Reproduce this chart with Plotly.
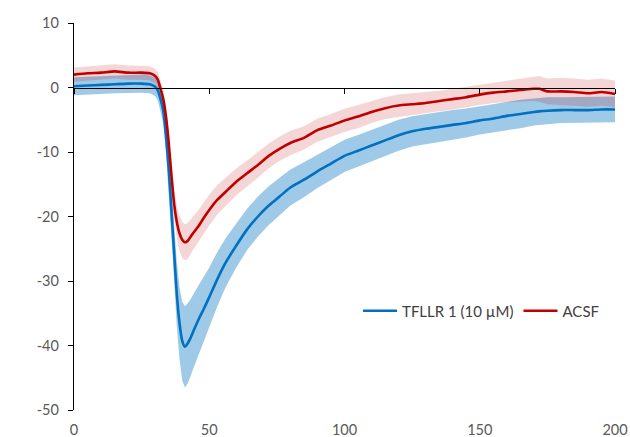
import plotly.graph_objects as go

# ---- data ----
x_vals = [0, 5, 10, 15, 20, 25, 28, 30, 31, 32, 33, 34, 35, 36, 37, 38, 39, 40, 41, 42,
          43, 44, 46, 48, 50, 53, 56, 60, 64, 68, 72, 76, 80, 85, 90, 95, 100, 105, 110,
          115, 120, 125, 130, 135, 140, 145, 150, 155, 160, 165, 170, 172, 175, 180, 185,
          190, 195, 200]

tfllr_mean = [0.2, 0.3, 0.4, 0.5, 0.6, 0.6, 0.5, 0.1, -0.5, -1.8, -3.6, -7.5, -12.5, -19.0,
              -25.5, -32.0, -36.5, -39.3, -40.2, -39.7, -38.9, -37.9, -36.0, -34.3, -32.5,
              -29.7, -27.2, -24.5, -22.0, -20.0, -18.3, -16.9, -15.5, -14.3, -13.0, -11.8,
              -10.6, -9.8, -9.0, -8.2, -7.4, -6.8, -6.4, -6.1, -5.8, -5.5, -5.1, -4.8, -4.4,
              -4.1, -3.8, -3.7, -3.6, -3.5, -3.5, -3.5, -3.4, -3.4]

tfllr_err = [1.4, 1.4, 1.4, 1.4, 1.4, 1.4, 1.4, 1.4, 1.5, 1.7, 2.0, 2.5, 3.0, 3.6, 4.3, 5.0,
             5.6, 6.1, 6.3, 6.2, 6.0, 5.8, 5.3, 5.0, 4.6, 4.2, 3.8, 3.4, 3.2, 3.1, 3.0, 2.9,
             2.8, 2.7, 2.6, 2.55, 2.5, 2.45, 2.45, 2.4, 2.4, 2.35, 2.3, 2.3, 2.3, 2.25, 2.2,
             2.2, 2.2, 2.2, 2.1, 2.1, 2.1, 2.0, 2.0, 2.0, 2.0, 2.0]

acsf_mean = [2.0, 2.2, 2.3, 2.5, 2.3, 2.3, 2.2, 1.8, 1.2, -0.2, -1.8, -4.5, -8.5, -13.5,
             -18.0, -20.8, -22.6, -23.6, -24.0, -23.8, -23.2, -22.6, -21.5, -20.2, -19.0,
             -17.4, -16.2, -14.6, -13.3, -12.0, -10.6, -9.5, -8.6, -7.8, -6.6, -5.9, -5.1,
             -4.5, -3.8, -3.2, -2.8, -2.6, -2.4, -2.1, -1.8, -1.5, -1.1, -0.8, -0.6, -0.4,
             -0.2, -0.2, -0.6, -0.6, -0.7, -0.9, -0.7, -1.0]

acsf_err = [1.1, 1.1, 1.1, 1.1, 1.1, 1.1, 1.1, 1.1, 1.2, 1.3, 1.4, 1.6, 1.8, 2.0, 2.3, 2.5,
            2.7, 2.8, 2.8, 2.8, 2.7, 2.6, 2.5, 2.4, 2.4, 2.3, 2.2, 2.1, 2.0, 2.0, 1.9, 1.9,
            1.9, 1.8, 1.8, 1.8, 1.8, 1.8, 1.7, 1.7, 1.7, 1.7, 1.6, 1.6, 1.6, 1.6, 1.6, 1.6,
            1.7, 1.8, 1.9, 2.0, 2.0, 2.1, 2.1, 2.1, 2.1, 2.1]

series_names = ["TFLLR 1 (10 µM)", "ACSF"]
y_tickvals = [10, 0, -10, -20, -30, -40, -50]
y_ticktext = ["10", "0", "-10", "-20", "-30", "-40", "-50"]
x_tickvals = [0, 50, 100, 150, 200]

FONT = "Lato"
LABEL_COLOR = "#595959"


def band(x, m, e, color):
    upper = [a + b for a, b in zip(m, e)]
    lower = [a - b for a, b in zip(m, e)]
    return go.Scatter(x=list(x) + list(x)[::-1], y=upper + lower[::-1],
                      fill="toself", fillcolor=color, line=dict(width=0),
                      mode="lines", hoverinfo="skip", showlegend=False)


fig = go.Figure()
fig.add_trace(band(x_vals, tfllr_mean, tfllr_err, "rgba(0,112,192,0.38)"))
fig.add_trace(band(x_vals, acsf_mean, acsf_err, "rgba(192,0,0,0.16)"))
fig.add_trace(go.Scatter(x=x_vals, y=tfllr_mean, mode="lines", name=series_names[0],
                         line=dict(color="#0070C0", width=2.6, shape="spline", smoothing=0.6)))
fig.add_trace(go.Scatter(x=x_vals, y=acsf_mean, mode="lines", name=series_names[1],
                         line=dict(color="#C00000", width=2.6, shape="spline", smoothing=0.6)))
# helper trace that carries the mid-plot x axis (line at y = 0 with ticks)
fig.add_trace(go.Scatter(x=[None], y=[None], xaxis="x2", showlegend=False, hoverinfo="skip"))

fig.update_layout(
    width=630, height=437,
    margin=dict(l=74, r=15, t=23, b=27),
    paper_bgcolor="white", plot_bgcolor="white",
    font=dict(family=FONT, size=14.5, color=LABEL_COLOR),
    showlegend=True,
    legend=dict(orientation="h", x=0.525, y=0.256, xanchor="left", yanchor="middle",
                bgcolor="rgba(0,0,0,0)", font=dict(family=FONT, size=15, color="#404040"),
                itemwidth=34, tracegroupgap=0),
    xaxis=dict(range=[0, 200], tickvals=x_tickvals, showline=False, showgrid=False,
               zeroline=False, ticks="outside", ticklen=7, tickcolor="rgba(0,0,0,0)",
               automargin=False, fixedrange=True),
    xaxis2=dict(range=[0, 200], tickvals=x_tickvals, overlaying="x", anchor="free",
                position=50 / 60, showline=True, linecolor="black", linewidth=1.3,
                ticks="outside", ticklen=5, tickcolor="black", tickwidth=1.3,
                showticklabels=False, showgrid=False, zeroline=False),
    yaxis=dict(range=[-50, 10], tickvals=y_tickvals, ticktext=y_ticktext,
               showline=True, linecolor="black", linewidth=1.3, ticks="outside",
               ticklen=5, tickcolor="black", tickwidth=1.3, showgrid=False,
               zeroline=False, automargin=False, ticklabelstandoff=6),
)

fig.write_html("out.html")
